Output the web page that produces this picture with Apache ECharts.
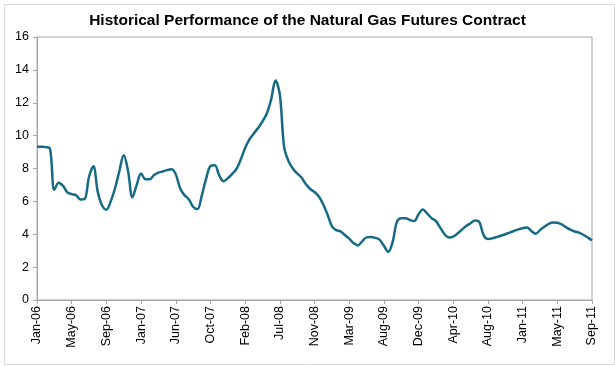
<!DOCTYPE html>
<html>
<head>
<meta charset="utf-8">
<script src="https://cdn.jsdelivr.net/npm/echarts@6/dist/echarts.min.js"></script>
<style>
html,body{margin:0;padding:0;background:#fff;}
#chart{width:615px;height:367px;}
</style>
</head>
<body>
<div id="chart"></div>
<script>
var tickLabels = ["Jan-06","May-06","Sep-06","Jan-07","Jun-07","Oct-07","Feb-08","Jul-08","Nov-08","Mar-09","Aug-09","Dec-09","Apr-10","Aug-10","Jan-11","May-11","Sep-11"];
var prices = [
9.33,9.32,9.3,9.2,6.7,7.14,6.94,6.55,6.44,6.38,6.12,6.15,7.5,8.14,6.6,5.75,
5.49,6.0,6.8,7.85,8.8,7.85,6.25,7.0,7.7,7.35,7.35,7.6,7.75,7.82,7.9,7.95,
7.65,6.8,6.38,6.13,5.67,5.53,6.35,7.38,8.15,8.2,7.6,7.22,7.41,7.67,7.97,8.55,
9.25,9.77,10.13,10.47,10.87,11.35,12.2,13.35,12.5,9.3,8.45,8.0,7.7,7.45,7.05,6.75,
6.57,6.3,5.83,5.2,4.5,4.25,4.18,3.95,3.73,3.47,3.32,3.57,3.81,3.83,3.78,3.67,
3.3,2.93,3.5,4.75,4.98,4.98,4.87,4.8,5.22,5.5,5.25,4.98,4.8,4.4,4.0,3.8,
3.85,4.05,4.28,4.5,4.67,4.84,4.75,3.95,3.71,3.75,3.83,3.91,4.0,4.1,4.2,4.3,
4.37,4.41,4.2,4.03,4.25,4.45,4.63,4.72,4.7,4.6,4.43,4.28,4.17,4.1,3.97,3.8,
3.63
];
var step = 8;
var categories = prices.map(function(_, i){ return "p" + i; });

var chart = echarts.init(document.getElementById('chart'), null, {renderer:'canvas'});
chart.setOption({
  animation: false,
  backgroundColor: '#fff',
  title: {
    text: 'Historical Performance of the Natural Gas Futures Contract',
    left: 'center',
    top: 8,
    textStyle: {fontFamily: 'Liberation Sans, Arial, sans-serif', fontSize: 15.5, fontWeight: 'bold', color: '#000'}
  },
  graphic: [{
    type: 'rect', left: 2, top: 2, z: -1,
    shape: {width: 610, height: 360},
    style: {fill: 'none', stroke: '#d9d9d9', lineWidth: 1}
  }],
  grid: {left: 37, right: 23, top: 37, bottom: 67, show: true, borderColor: '#a6a6a6', borderWidth: 1, backgroundColor: 'transparent'},
  xAxis: {
    type: 'category',
    data: categories,
    boundaryGap: false,
    axisLine: {show: true, lineStyle: {color: '#a6a6a6', width: 1}},
    axisTick: {show: true, interval: step - 1, length: 4, lineStyle: {color: '#a6a6a6'}},
    axisLabel: {
      interval: step - 1, rotate: 90, margin: 6,
      fontFamily: 'Liberation Sans, Arial, sans-serif', fontSize: 12.5, color: '#000',
      formatter: function(v, idx){ return tickLabels[Math.round(idx / step)] || ''; }
    },
    splitLine: {show: false}
  },
  yAxis: {
    type: 'value', min: 0, max: 16, interval: 2,
    axisLine: {show: true, lineStyle: {color: '#a6a6a6', width: 1}},
    axisTick: {show: true, length: 4, lineStyle: {color: '#a6a6a6'}},
    axisLabel: {fontFamily: 'Liberation Sans, Arial, sans-serif', fontSize: 12.5, color: '#000', margin: 8},
    splitLine: {show: false}
  },
  series: [{
    type: 'line',
    data: prices,
    smooth: 0.35,
    showSymbol: false,
    lineStyle: {color: '#176a85', width: 2.5},
    itemStyle: {color: '#176a85'}
  }]
});
</script>
</body>
</html>
